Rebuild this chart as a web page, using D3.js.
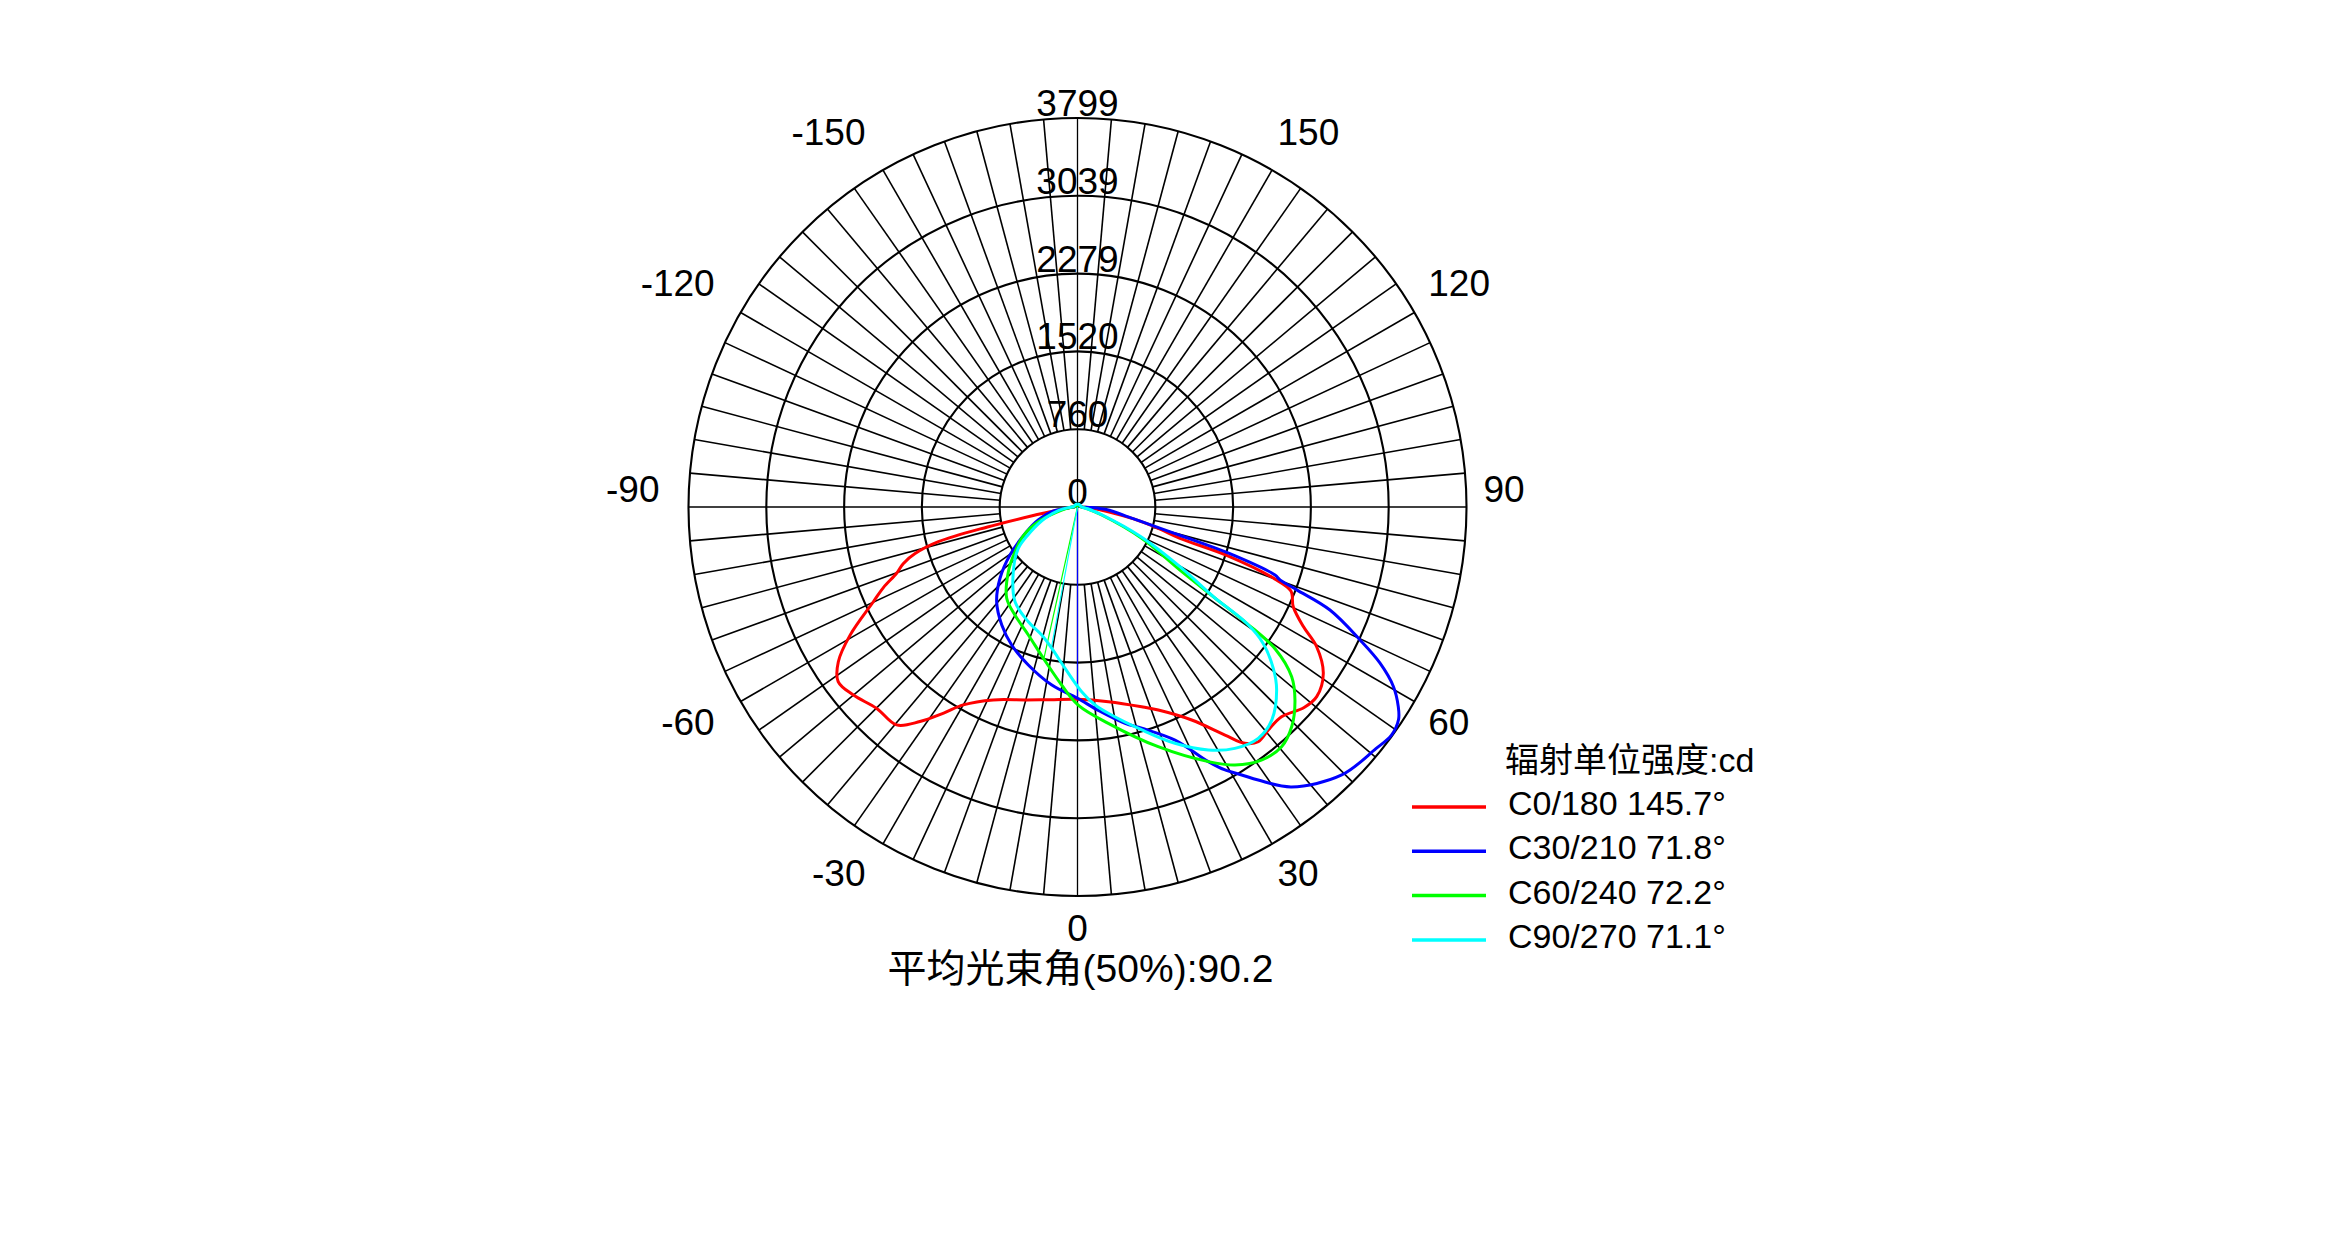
<!DOCTYPE html>
<html>
<head>
<meta charset="utf-8">
<script src="https://cdn.jsdelivr.net/npm/d3@7/dist/d3.min.js"></script>
<style>
  html, body { margin: 0; padding: 0; background: #fff; }
  text { font-family: "Liberation Sans", Arial, "Noto Sans CJK SC", sans-serif; fill: #000; }
</style>
</head>
<body>
<div id="chart"></div>
<script>
// radial ticks (cd) and the top of the scale
const ringValues = [760, 1520, 2279, 3039, 3799];
const maxValue = 3799;
// angle labels, degrees, 0 = straight down, positive to the right
const angleTicks = [-150, -120, -90, -60, -30, 0, 30, 60, 90, 120, 150];

const seriesNames = ['C0/180 145.7°', 'C30/210 71.8°', 'C60/240 72.2°', 'C90/270 71.1°'];
const seriesColors = ['#ff0000', '#0000ff', '#00ff00', '#00ffff'];

// C0/180
const c0Angles = [-180, -150, -120, -95, -88, -82, -79, -77.5, -76, -74, -72, -69.9, -67.5, -65.1, -60.6, -57.1, -53.9, -50, -44.9, -39.7, -36.3, -33, -30, -23.6, -15, -8, 0, 9, 17.8, 21.7, 28.2, 32.9, 35.3, 37.6, 40.6, 44.2, 48.5, 51.6, 55.9, 59.7, 62.1, 65.2, 68.5, 70, 72, 73, 75.2, 78, 81.3, 86, 92, 120, 150, 180];
const c0Values = [0, 10, 20, 30, 60, 150, 450, 900, 1400, 1650, 1790, 1881, 2050, 2198, 2549, 2782, 2893, 2857, 2777, 2766, 2600, 2400, 2232, 2056, 1951, 1900, 1878, 1925, 2049, 2134, 2360, 2652, 2828, 2893, 2866, 2858, 2955, 2981, 2899, 2705, 2496, 2321, 2240, 2045, 1550, 1047, 816, 560, 304, 120, 40, 20, 10, 0];

// C30/210
const c30Angles = [-180, -150, -120, -95, -88, -80, -72, -64.1, -54.6, -47.4, -40.5, -32.7, -25.5, -17.3, -8.2, 0, 6, 12.4, 16.2, 22.7, 27.2, 29.3, 31.5, 33.5, 37.4, 44.6, 51, 54, 56.5, 58.1, 60.4, 62.7, 64.8, 67.8, 69.3, 70.2, 71, 73, 74.6, 77.1, 80, 84.4, 88, 92, 120, 150, 180];
const c30Values = [0, 10, 20, 30, 60, 250, 400, 552, 809, 1028, 1216, 1369, 1493, 1616, 1757, 1868, 2000, 2163, 2250, 2467, 2796, 2945, 3069, 3198, 3441, 3675, 3750, 3790, 3760, 3690, 3548, 3325, 3049, 2663, 2289, 2102, 2040, 1550, 1030, 643, 450, 302, 120, 40, 20, 10, 0];

// C60/240
const c60Angles = [-180, -150, -120, -95, -88, -79, -69.4, -62, -54.4, -46.9, -37.8, -30.1, -21, -12.7, -5.1, 0.2, 8.1, 18.6, 27.2, 31.4, 36.1, 40.4, 44.3, 48.4, 51.6, 54.3, 55.5, 56.5, 58.4, 64, 71.7, 80, 90, 120, 150, 180];
const c60Values = [0, 10, 20, 30, 60, 157, 409, 600, 750, 925, 1128, 1219, 1339, 1515, 1745, 1934, 2134, 2470, 2796, 2952, 3057, 3075, 2996, 2840, 2669, 2380, 2005, 1607, 1175, 697, 249, 90, 40, 20, 10, 0];

// C90/270
const c90Angles = [-180, -150, -120, -95, -88, -80, -70.8, -62, -55.1, -44.8, -33.4, -23.2, -15.6, -10.3, -4.4, 1.3, 5.1, 8.5, 16.1, 22.4, 28.3, 33.1, 38, 42.4, 47.4, 50.5, 53.7, 55.5, 56.6, 59.8, 65, 72, 80, 90, 120, 150, 180];
const c90Values = [30, 30, 30, 40, 70, 180, 336, 520, 705, 890, 1108, 1219, 1298, 1403, 1580, 1804, 1941, 2037, 2266, 2496, 2695, 2814, 2867, 2815, 2642, 2478, 2250, 2005, 1589, 1158, 680, 260, 100, 40, 30, 30, 30];

// thin return strokes from the centre (angle, value at the far end)
const connectorAngles = [null, 0, -12.5, -10.5];
const connectorValues = [null, 1868, 1515, 1400];

const seriesAngles = [c0Angles, c30Angles, c60Angles, c90Angles];
const seriesValues = [c0Values, c30Values, c60Values, c90Values];

const width = 2352, height = 1248;
const cx = 1077.5, cy = 507, outerR = 389;

const rScale = d3.scaleLinear().domain([0, maxValue]).range([0, outerR]);
// lineRadial measures clockwise from 12 o'clock, our 0 points down
const toAngle = deg => (180 - deg) * Math.PI / 180;
const rad = deg => deg * Math.PI / 180;

const svg = d3.select('#chart').append('svg')
    .attr('width', width)
    .attr('height', height)
    .style('display', 'block');

svg.append('rect').attr('width', width).attr('height', height).attr('fill', '#fff');

const g = svg.append('g').attr('transform', 'translate(' + cx + ',' + cy + ')');

// spokes every 5 degrees, from the first ring out
const spokes = d3.range(-175, 185, 5).filter(a => a % 90 !== 0);
g.append('g').selectAll('line')
    .data(spokes)
    .enter().append('line')
    .attr('x1', d => rScale(ringValues[0]) * Math.sin(rad(d)))
    .attr('y1', d => rScale(ringValues[0]) * Math.cos(rad(d)))
    .attr('x2', d => outerR * Math.sin(rad(d)))
    .attr('y2', d => outerR * Math.cos(rad(d)))
    .attr('stroke', '#000')
    .attr('stroke-width', 1.6);

// the two axes through the centre
g.append('g').selectAll('line')
    .data([0, 90])
    .enter().append('line')
    .attr('x1', d => -outerR * Math.sin(rad(d)))
    .attr('y1', d => -outerR * Math.cos(rad(d)))
    .attr('x2', d => outerR * Math.sin(rad(d)))
    .attr('y2', d => outerR * Math.cos(rad(d)))
    .attr('stroke', '#000')
    .attr('stroke-width', 1.3);

// rings
g.append('g').selectAll('circle')
    .data(ringValues)
    .enter().append('circle')
    .attr('r', d => rScale(d))
    .attr('fill', 'none')
    .attr('stroke', '#000')
    .attr('stroke-width', 2.1);

// ring labels up the vertical axis
g.append('g').selectAll('text')
    .data([0].concat(ringValues))
    .enter().append('text')
    .attr('x', 0)
    .attr('y', d => -rScale(d) - 2)
    .attr('text-anchor', 'middle')
    .style('font-size', '37px')
    .text(d => d);

// angle labels
const labelR = 412;
g.append('g').selectAll('text')
    .data(angleTicks)
    .enter().append('text')
    .attr('x', d => labelR * Math.sin(rad(d)) + (d === 0 ? 0 : -6))
    .attr('y', d => {
        const c = Math.cos(rad(d));
        return labelR * c + (c > 0.01 ? 27 : 0) - 5;
    })
    .attr('text-anchor', d => {
        const s = Math.sin(rad(d));
        return s > 0.01 ? 'start' : (s < -0.01 ? 'end' : 'middle');
    })
    .style('font-size', '37px')
    .text(d => d);

// curves
const line = d3.lineRadial()
    .angle(d => toAngle(d[0]))
    .radius(d => rScale(d[1]))
    .curve(d3.curveCatmullRom.alpha(0.5));

const curves = g.append('g');
seriesNames.forEach((name, i) => {
    curves.append('path')
        .datum(d3.zip(seriesAngles[i], seriesValues[i]))
        .attr('d', line)
        .attr('fill', 'none')
        .attr('stroke', seriesColors[i])
        .attr('stroke-width', 3)
        .attr('stroke-linejoin', 'round');
    if (connectorAngles[i] !== null) {
        curves.append('path')
            .datum([[connectorAngles[i], 0], [connectorAngles[i], connectorValues[i]]])
            .attr('d', d3.lineRadial().angle(d => toAngle(d[0])).radius(d => rScale(d[1])))
            .attr('fill', 'none')
            .attr('stroke', seriesColors[i])
            .attr('stroke-width', 1.2);
    }
});

// beam angle caption
svg.append('text')
    .attr('x', cx + 3)
    .attr('y', cy + 475)
    .attr('text-anchor', 'middle')
    .style('font-size', '39px')
    .text('平均光束角(50%):90.2');

// legend
const legend = svg.append('g').attr('transform', 'translate(1412,772)');
legend.append('text')
    .attr('x', 93)
    .attr('y', 0)
    .style('font-size', '34px')
    .text('辐射单位强度:cd');

const items = legend.selectAll('.item')
    .data(seriesNames)
    .enter().append('g')
    .attr('class', 'item')
    .attr('transform', (d, i) => 'translate(0,' + (43 + i * 44.3) + ')');

items.append('line')
    .attr('x1', 0).attr('x2', 74)
    .attr('y1', -8).attr('y2', -8)
    .attr('stroke', (d, i) => seriesColors[i])
    .attr('stroke-width', 3.5);

items.append('text')
    .attr('x', 96)
    .attr('y', 0)
    .style('font-size', '34px')
    .text(d => d);
</script>
</body>
</html>
